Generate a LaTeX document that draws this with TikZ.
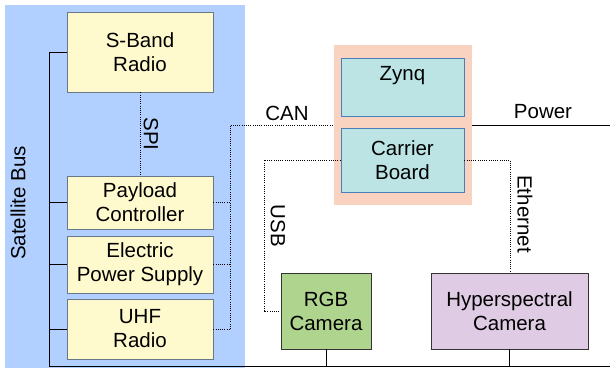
\documentclass[tikz,border=0pt]{standalone}
\usepackage{fontspec}
\setmainfont{Liberation Sans}
\definecolor{busblue}{RGB}{178,208,255}
\definecolor{boxyellow}{RGB}{255,250,205}
\definecolor{yborder}{RGB}{105,120,135}
\definecolor{orangebg}{RGB}{250,211,192}
\definecolor{cyanfill}{RGB}{188,228,228}
\definecolor{cyanborder}{RGB}{74,126,187}
\definecolor{greenfill}{RGB}{174,212,142}
\definecolor{lavfill}{RGB}{224,203,228}
\begin{document}
\begin{tikzpicture}[x=1pt,y=-1pt,
  every node/.style={font=\fontsize{20.5}{24}\selectfont, inner sep=0pt, align=center},
  ybox/.style={draw=yborder, fill=boxyellow, line width=0.9pt, minimum width=146pt},
  cbox/.style={draw=cyanborder, fill=cyanfill, line width=0.9pt, minimum width=123pt},
  cam/.style={draw=black!80, line width=0.9pt, minimum height=76pt},
  solidline/.style={line width=0.9pt, black},
  dotline/.style={line width=0.8pt, dash pattern=on 1pt off 1.2pt, black}]
\useasboundingbox (0,0) rectangle (610,371);
% background panels
\fill[busblue] (5,5) rectangle (245,368);
\node[fill=orangebg, minimum width=138pt, minimum height=160pt] (tx) at (403,125) {};
% bus boxes
\node[ybox, minimum height=80pt] (sband) at (140,52) {S-Band\\Radio};
\node[ybox, minimum height=53pt] (payload) at (140,202.5) {Payload\\Controller};
\node[ybox, minimum height=57pt] (eps) at (140,264.5) {Electric\\Power Supply};
\node[ybox, minimum height=60pt] (uhf) at (140,329) {UHF\\Radio};
% payload boxes
\node[cbox, minimum height=58pt] (zynq) at (402.5,87) {};
\node[anchor=north] (zynqlabel) at (402.5,66) {Zynq};
\node[cbox, minimum height=64pt] (carrier) at (402.5,160) {Carrier\\Board};
\node[cam, fill=greenfill, minimum width=90pt] (rgb) at (326,311) {RGB\\Camera};
\node[cam, fill=lavfill, minimum width=157pt] (hyper) at (509.5,311) {Hyperspectral\\Camera};
% bus coordinates
\coordinate (bustop) at (49,52);
\coordinate (busbot) at (49,366);
\coordinate (busend) at (610,366);
\coordinate (canx) at (230,125);
\coordinate (powend) at (610,125);
\coordinate (usbx) at (264,160);
\coordinate (ethx) at (510,160);
% satellite bus lines
\draw[solidline] (bustop) -- (busbot) -- (busend);
\draw[solidline] (sband.west) -- (sband.west -| bustop);
\draw[solidline] (payload.west) -- (payload.west -| bustop);
\draw[solidline] (eps.west) -- (eps.west -| bustop);
\draw[solidline] (uhf.west) -- (uhf.west -| bustop);
\draw[solidline] (rgb.south) -- (rgb.south |- busend);
\draw[solidline] (hyper.south) -- (hyper.south |- busend);
% power
\draw[solidline] (tx.east |- powend) -- (powend);
% SPI
\draw[dotline] (sband.south) -- (payload.north);
% CAN
\draw[dotline] (payload.east) -- (payload.east -| canx);
\draw[dotline] (eps.east) -- (eps.east -| canx);
\draw[dotline] (uhf.east) -- (uhf.east -| canx);
\draw[dotline] (uhf.east -| canx) -- (canx) -- (tx.west |- canx);
% USB
\draw[dotline] (carrier.west) -- (usbx) |- (rgb.west);
% Ethernet
\draw[dotline] (carrier.east) -- (ethx) -- (ethx |- hyper.north);
% labels
\node[rotate=90] (satbus) at (18,203) {Satellite Bus};
\node[rotate=-90] (spi) at (151,134) {SPI};
\node (can) at (287,113) {CAN};
\node (power) at (543,112) {Power};
\node[rotate=-90] (usb) at (278,226) {USB};
\node[rotate=-90] (eth) at (525,214) {Ethernet};
\end{tikzpicture}
\end{document}
